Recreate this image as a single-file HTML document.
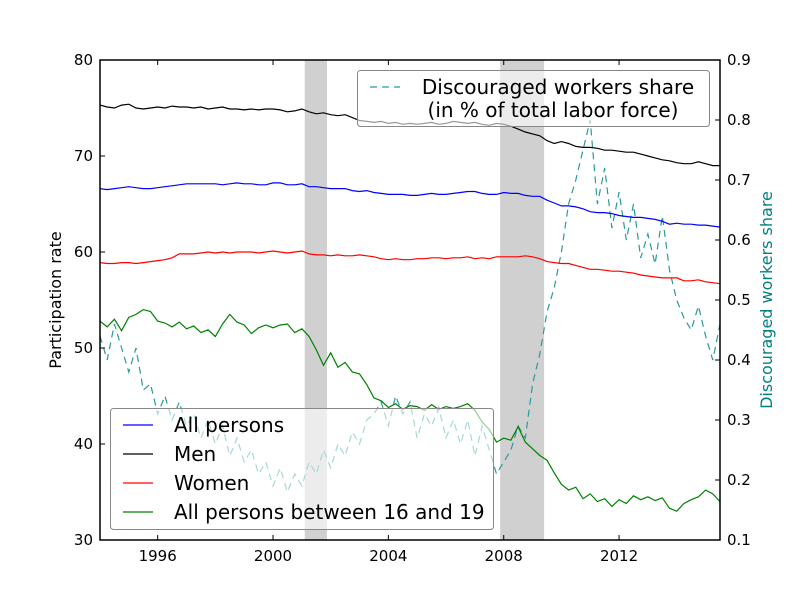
<!DOCTYPE html>
<html><head><meta charset="utf-8"><style>
body{margin:0;background:#fff;}
svg text{font-family:"DejaVu Sans","Liberation Sans",sans-serif;}
</style></head><body>
<svg id="chart" width="800" height="600" xmlns="http://www.w3.org/2000/svg">
<rect width="800" height="600" fill="#fff"/>
<g id="shade"></g>
<g id="series"></g>
<g id="axes"></g>
<g id="legends"></g>
</svg>
<script>
const startYear = 1994, stepYear = 0.25;
const xTicks = [1996, 2000, 2004, 2008, 2012];
const yTicksLeft = [30, 40, 50, 60, 70, 80];
const yTicksRight = [0.1, 0.2, 0.3, 0.4, 0.5, 0.6, 0.7, 0.8, 0.9];
const recessions = [[2001.1, 2001.87], [2007.875, 2009.4]];
const men = [75.3,75.1,75.0,75.3, 75.4,75.0,74.9,75.0, 75.1,75.0,75.2,75.1, 75.1,75.0,75.1,74.9, 75.0,75.1,74.9,74.9, 74.8,74.9,74.8,74.9, 74.9,74.8,74.6,74.7, 74.9,74.6,74.4,74.5, 74.3,74.2,74.3,74.0, 73.7,73.6,73.5,73.6, 73.4,73.5,73.3,73.4, 73.3,73.4,73.5,73.3, 73.4,73.6,73.5,73.4, 73.5,73.3,73.2,73.4, 73.3,73.1,72.8,72.5, 72.3,72.1,71.6,71.3, 71.5,71.3,71.0,70.9, 70.9,70.8,70.6,70.6, 70.5,70.4,70.4,70.2, 70.0,69.8,69.6,69.5, 69.3,69.2,69.2,69.4, 69.2,69.0,69.0];
const allPersons = [66.6,66.5,66.6,66.7, 66.8,66.7,66.6,66.6, 66.7,66.8,66.9,67.0, 67.1,67.1,67.1,67.1, 67.1,67.0,67.1,67.2, 67.1,67.1,67.0,67.0, 67.2,67.2,67.0,67.0, 67.1,66.8,66.8,66.7, 66.6,66.6,66.6,66.4, 66.3,66.4,66.2,66.1, 66.0,66.0,66.0,65.9, 65.9,66.0,66.1,66.0, 66.0,66.1,66.2,66.3, 66.3,66.1,66.0,66.0, 66.2,66.1,66.1,65.9, 65.8,65.8,65.4,65.1, 64.8,64.8,64.7,64.5, 64.2,64.1,64.1,64.0, 63.8,63.7,63.6,63.6, 63.5,63.4,63.2,62.9, 63.0,62.9,62.9,62.8, 62.8,62.7,62.6];
const women = [58.9,58.8,58.8,58.9, 58.9,58.8,58.9,59.0, 59.1,59.2,59.4,59.8, 59.8,59.8,59.9,60.0, 59.9,60.0,59.9,60.0, 60.0,60.0,59.9,60.0, 60.1,60.0,59.9,60.0, 60.1,59.8,59.7,59.7, 59.6,59.7,59.6,59.6, 59.7,59.6,59.5,59.3, 59.2,59.3,59.2,59.2, 59.3,59.3,59.4,59.4, 59.3,59.4,59.4,59.5, 59.3,59.4,59.3,59.5, 59.5,59.5,59.5,59.6, 59.5,59.3,59.0,58.9, 58.8,58.8,58.6,58.4, 58.2,58.2,58.1,58.0, 58.0,57.9,57.8,57.6, 57.5,57.4,57.3,57.3, 57.3,57.0,57.0,57.1, 56.9,56.8,56.7];
const teens = [52.8,52.2,53.0,51.8, 53.2,53.5,54.0,53.8, 52.8,52.6,52.2,52.7, 52.0,52.3,51.6,51.9, 51.2,52.5,53.5,52.7, 52.4,51.5,52.1,52.4, 52.1,52.4,52.5,51.6, 52.0,51.2,49.8,48.2, 49.5,48.0,48.5,47.5, 47.3,46.2,44.8,44.5, 43.8,44.2,43.6,44.0, 43.9,43.5,44.1,43.6, 43.9,43.7,43.9,44.2, 43.5,42.3,41.5,40.2, 40.6,40.4,41.8,40.2, 39.5,38.8,38.3,37.0, 35.8,35.2,35.5,34.3, 34.8,34.0,34.3,33.5, 34.2,33.8,34.6,34.2, 34.5,34.1,34.4,33.3, 33.0,33.8,34.2,34.5, 35.2,34.8,34.0];
const discouraged = [0.44,0.40,0.46,0.42, 0.38,0.42,0.35,0.36, 0.31,0.34,0.30,0.33, 0.29,0.31,0.27,0.30, 0.26,0.29,0.24,0.27, 0.23,0.25,0.21,0.23, 0.19,0.22,0.18,0.21, 0.19,0.23,0.21,0.25, 0.22,0.26,0.24,0.28, 0.26,0.30,0.31,0.33, 0.29,0.34,0.31,0.33, 0.27,0.31,0.29,0.32, 0.27,0.30,0.26,0.30, 0.24,0.29,0.25,0.21, 0.23,0.25,0.29,0.27, 0.36,0.41,0.48,0.52, 0.58,0.66,0.70,0.75, 0.80,0.66,0.72,0.62, 0.68,0.60,0.66,0.57, 0.61,0.56,0.64,0.55, 0.50,0.47,0.45,0.49, 0.44,0.40,0.46];

const NS = "http://www.w3.org/2000/svg";
const L = 100, R = 720, T = 60, B = 540;
const x0 = 1994, x1 = 2015.5;
const xs = v => L + (v - x0) / (x1 - x0) * (R - L);
const yl = v => B - (v - 30) / 50 * (B - T);
const yr = v => B - (v - 0.1) / 0.8 * (B - T);
function mk(tag, attrs, parent) {
  const e = document.createElementNS(NS, tag);
  for (const k in attrs) e.setAttribute(k, attrs[k]);
  parent.appendChild(e);
  return e;
}
const shade = document.getElementById('shade');
recessions.forEach(r => {
  const e = mk('rect', {x: xs(r[0]), y: T, width: xs(r[1]) - xs(r[0]), height: B - T, fill: '#d0d0d0'}, shade);
  
  
});
const ser = document.getElementById('series');
function line(vals, yf, color, name, dash) {
  const pts = vals.map((v, i) => xs(startYear + i * stepYear).toFixed(1) + ',' + yf(v).toFixed(1)).join(' ');
  const e = mk('polyline', {points: pts, fill: 'none', stroke: color, 'stroke-width': 1.2}, ser);
  if (dash) e.setAttribute('stroke-dasharray', dash);
  
  
}
line(discouraged, yr, '#2a9a9a', 'discouraged-line', '7,5');
line(men, yl, '#000', 'men-line');
line(allPersons, yl, '#0000ff', 'all-persons-line');
line(women, yl, '#ff0000', 'women-line');
line(teens, yl, '#008000', 'teens-line');

const ax = document.getElementById('axes');
mk('rect', {x: L, y: T, width: R - L, height: B - T, fill: 'none', stroke: '#000', 'stroke-width': 1.5}, ax);
xTicks.forEach(t => {
  const x = xs(t);
  mk('line', {x1: x, x2: x, y1: B, y2: B - 5, stroke: '#000'}, ax);
  mk('line', {x1: x, x2: x, y1: T, y2: T + 5, stroke: '#000'}, ax);
  const tx = mk('text', {x: x, y: B + 21, 'font-size': 15, 'text-anchor': 'middle'}, ax);
  tx.textContent = t;
  
  
});
yTicksLeft.forEach(t => {
  const y = yl(t);
  mk('line', {x1: L, x2: L + 5, y1: y, y2: y, stroke: '#000'}, ax);
  const tx = mk('text', {x: L - 7, y: y + 5, 'font-size': 15, 'text-anchor': 'end'}, ax);
  tx.textContent = t;
  
  
});
yTicksRight.forEach(t => {
  const y = yr(t);
  mk('line', {x1: R - 5, x2: R, y1: y, y2: y, stroke: '#000'}, ax);
  const tx = mk('text', {x: R + 7, y: y + 5, 'font-size': 15}, ax);
  tx.textContent = t.toFixed(1);
  
  
});
const yt = mk('text', {x: 61, y: 300, 'font-size': 16, 'text-anchor': 'middle', transform: 'rotate(-90 61 300)'}, ax);
yt.textContent = 'Participation rate';


const yt2 = mk('text', {x: 772, y: 300, 'font-size': 16, 'text-anchor': 'middle', fill: '#008080', transform: 'rotate(-90 772 300)'}, ax);
yt2.textContent = 'Discouraged workers share';



const lg = document.getElementById('legends');
const box1 = mk('rect', {x: 110.5, y: 408.5, width: 383, height: 121, rx: 3, fill: 'rgba(255,255,255,0.6)', stroke: '#888'}, lg);


const entries = [['All persons', '#0000ff'], ['Men', '#000'], ['Women', '#ff0000'], ['All persons between 16 and 19', '#008000']];
entries.forEach((e, i) => {
  const y = 425 + i * 29;
  mk('line', {x1: 123, x2: 153, y1: y, y2: y, stroke: e[1], 'stroke-width': 1.2}, lg);
  const t = mk('text', {x: 174, y: y + 7, 'font-size': 20}, lg);
  t.textContent = e[0];
  
  
});
const box2 = mk('rect', {x: 357.5, y: 70.5, width: 352, height: 56, rx: 3, fill: 'rgba(255,255,255,0.6)', stroke: '#888'}, lg);


mk('line', {x1: 370, x2: 400, y1: 87, y2: 87, stroke: '#2a9a9a', 'stroke-dasharray': '7,5', 'stroke-width': 1.2}, lg);
const t1 = mk('text', {x: 558, y: 94, 'font-size': 20, 'text-anchor': 'middle'}, lg);
t1.textContent = 'Discouraged workers share';


const t2 = mk('text', {x: 553, y: 117, 'font-size': 20, 'text-anchor': 'middle'}, lg);
t2.textContent = '(in % of total labor force)';


</script>
</body></html>
